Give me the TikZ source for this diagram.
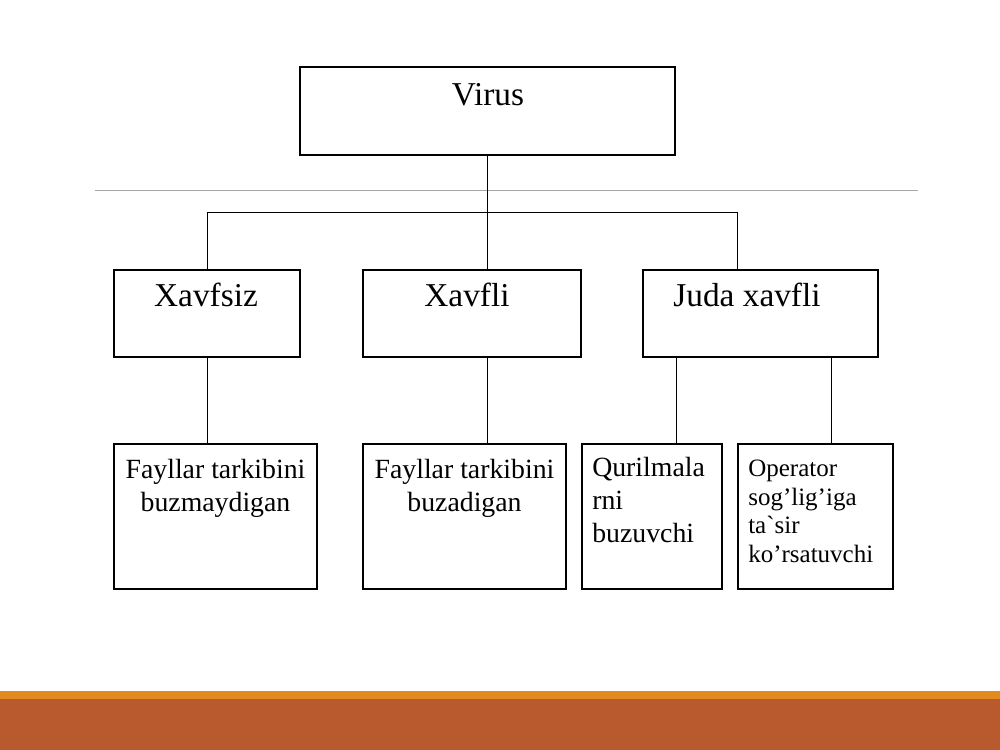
\documentclass[tikz,border=0pt]{standalone}
\usepackage{fontspec}
\setmainfont{Liberation Serif}
\usetikzlibrary{positioning}

\definecolor{barorange}{HTML}{E38A1F}
\definecolor{barbrown}{HTML}{B85A2D}
\definecolor{rulegray}{HTML}{A6A6A6}

\tikzset{
  box/.style 2 args={draw, line width=1pt, inner sep=0pt,
    minimum width=#1*0.72pt, minimum height=#2*0.72pt},
  big/.style={anchor=base, inner sep=0pt, font=\fontsize{24}{28}\selectfont},
  mid/.style={anchor=base, inner sep=0pt, font=\fontsize{20}{23.5}\selectfont},
  small/.style={anchor=base, inner sep=0pt, font=\fontsize{18}{20.5}\selectfont},
  link/.style={line width=0.6pt}
}

\begin{document}
\begin{tikzpicture}[x=0.72pt, y=-0.72pt]
  \useasboundingbox (0,0) rectangle (1000,750);

  % footer bars
  \fill[barorange] (0,691) rectangle (1000,700);
  \fill[barbrown] (0,699) rectangle (1000,750);

  % thin rule under the title
  \draw[rulegray, line width=0.7pt] (95,190) -- (918,190);

  % boxes
  \node[box={375}{88}] (virus) at (487.5,111) {};
  \node[box={186}{87}] (safe) at (207,313.5) {};
  \node[box={218}{87}] (danger) at (472,313.5) {};
  \node[box={235}{87}] (vdanger) at (760.5,313.5) {};
  \node[box={203}{145}] (keep) at (215.5,516.5) {};
  \node[box={203}{145}] (spoil) at (464.5,516.5) {};
  \node[box={140}{145}] (device) at (652,516.5) {};
  \node[box={155}{145}] (health) at (815.5,516.5) {};

  % texts (base = baseline of the last line)
  \node[big] (virusT) at (488,106) {Virus};
  \node[big] (safeT) at (206,307) {Xavfsiz};
  \node[big] (dangerT) at (467,307) {Xavfli};
  \node[big] (vdangerT) at (747,307) {Juda xavfli};
  \node[mid, align=center] (keepT) at (215.5,511) {Fayllar tarkibini\\buzmaydigan};
  \node[mid, align=center] (spoilT) at (464.5,511) {Fayllar tarkibini\\buzadigan};
  \node[mid, align=left, anchor=base west] (deviceT) at (592,542) {Qurilmala\\rni\\buzuvchi};
  \node[small, align=left, anchor=base west] (healthT) at (748,562)
    {Operator\\sog’lig’iga\\ta\textasciigrave sir\\ko’rsatuvchi};

  % connectors
  \coordinate (bus) at (487.5,212);
  \coordinate (busL) at (207,212);
  \coordinate (busR) at (737,212);
  \coordinate (tapA) at (676,0);
  \coordinate (tapB) at (831,0);

  \draw[link] (virus.south) -- (bus);
  \draw[link] (busL) -- (busR);
  \draw[link] (busL) -- (busL |- safe.north);
  \draw[link] (bus) -- (bus |- danger.north);
  \draw[link] (busR) -- (busR |- vdanger.north);

  \draw[link] (safe.south) -- (safe.south |- keep.north);
  \draw[link] (bus |- danger.south) -- (bus |- spoil.north);
  \draw[link] (tapA |- vdanger.south) -- (tapA |- device.north);
  \draw[link] (tapB |- vdanger.south) -- (tapB |- health.north);
\end{tikzpicture}
\end{document}
